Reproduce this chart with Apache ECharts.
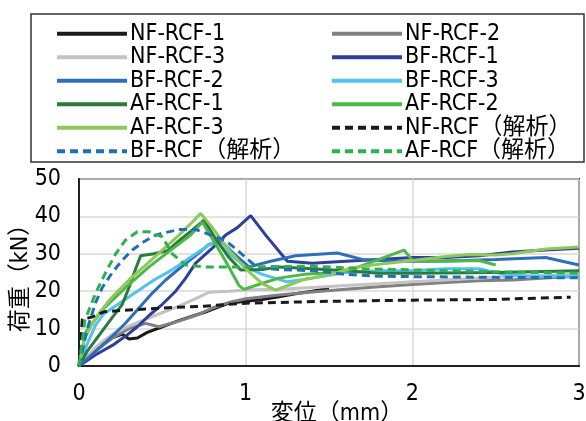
<!DOCTYPE html>
<html>
<head>
<meta charset="utf-8">
<script src="https://cdn.jsdelivr.net/npm/echarts@6/dist/echarts.min.js"></script>
<style>html,body{margin:0;padding:0;background:#fff}#c{width:586px;height:421px}</style>
</head>
<body>
<div id="c"></div>
<script>
const xTicks = [0, 1, 2, 3];
const yTicks = [0, 10, 20, 30, 40, 50];
const names = ['NF-RCF-1','NF-RCF-2','NF-RCF-3','BF-RCF-1','BF-RCF-2','BF-RCF-3','AF-RCF-1','AF-RCF-2','AF-RCF-3','NF-RCF（解析）','BF-RCF（解析）','AF-RCF（解析）'];

const nf1 = [[0,0],[0.05,2.5],[0.1,4.5],[0.15,6],[0.2,7.5],[0.26,8.5],[0.3,7.2],[0.35,7.5],[0.41,9],[0.5,10.5],[0.59,12],[0.67,13.2],[0.75,14.3],[0.82,15.5],[0.9,16.8],[1.0,17.3],[1.1,17.8],[1.2,18.5],[1.3,19.3],[1.4,20],[1.5,20.8]];
const nf2 = [[0,0],[0.1,4],[0.2,7.5],[0.3,10],[0.4,11.4],[0.48,10.5],[0.6,12],[0.7,13.5],[0.8,15.5],[0.9,17],[1.0,18],[1.2,19],[1.4,19.8],[1.6,20.5],[1.8,21.2],[2.0,21.8],[2.2,22.3],[2.4,22.8],[2.6,23],[2.8,23.5],[3.0,24]];
const nf3 = [[0,0],[0.1,5],[0.2,8.5],[0.29,10.5],[0.4,12.5],[0.49,14.1],[0.6,16],[0.7,18],[0.78,19.7],[0.9,20],[1.0,20.3],[1.2,20.5],[1.4,21],[1.6,21.5],[1.8,22],[2.0,22.5],[2.2,23],[2.4,23.5],[2.6,24],[2.8,24.2],[3.0,24.5]];
const bf1 = [[0,0],[0.1,3],[0.2,5.5],[0.28,8],[0.35,10.5],[0.42,13.5],[0.5,16.5],[0.58,20],[0.64,23.5],[0.7,27.5],[0.8,31.5],[0.88,35],[0.95,37],[1.03,40.2],[1.12,35],[1.25,28],[1.4,27.5],[1.6,28],[1.8,28.5],[2.0,29],[2.2,29],[2.4,29.5],[2.6,30.5],[2.8,31],[3.0,31.5]];
const bf2 = [[0,0],[0.1,4],[0.2,8],[0.28,11.5],[0.36,15.5],[0.44,19.5],[0.52,23],[0.6,26],[0.7,29.5],[0.78,32.5],[0.85,33.5],[0.93,30],[1.02,26.5],[1.15,28],[1.3,29.5],[1.55,30.2],[1.7,28.5],[1.9,28],[2.1,28],[2.3,28.2],[2.5,28.5],[2.8,29],[3.0,27]];
const bf3 = [[0,0],[0.05,6],[0.1,11],[0.15,14],[0.25,17],[0.35,20],[0.45,23],[0.55,25.5],[0.65,28.5],[0.75,31.5],[0.82,33.5],[0.9,30],[1.0,26.5],[1.1,24.5],[1.25,22.5],[1.4,23.5],[1.6,25],[1.8,25.5],[2.0,25.5],[2.2,26],[2.4,26],[2.55,24.5],[2.7,24],[3.0,24]];
const af1 = [[0,0],[0.05,4],[0.1,7],[0.15,10],[0.2,13],[0.26,16.5],[0.3,21],[0.34,26],[0.37,29.5],[0.45,30],[0.53,30.8],[0.6,33.5],[0.67,36],[0.75,39],[0.82,34],[0.9,29],[0.97,25.7],[1.1,25.8],[1.2,26.5],[1.4,26],[1.6,25.5],[1.8,24.8],[2.0,24.8],[2.5,25],[3.0,25.5]];
const af2 = [[0,0],[0.04,9],[0.14,15],[0.28,21],[0.42,26.5],[0.58,32],[0.67,35],[0.74,38.5],[0.8,34],[0.88,28],[0.96,21.5],[0.99,20.5],[1.09,22],[1.2,23.5],[1.35,24.5],[1.55,25],[1.63,25.7],[1.8,28.5],[1.95,31],[2.0,28.3],[2.2,28],[2.4,28.2],[2.5,27]];
const af3 = [[0,0],[0.03,7],[0.1,13],[0.2,18.5],[0.3,23],[0.4,27],[0.5,31],[0.6,35],[0.68,38.5],[0.73,40.8],[0.8,37],[0.9,31],[1.0,26],[1.1,22],[1.18,20.3],[1.34,23],[1.54,24.8],[1.63,26.2],[1.8,27.2],[2.0,28.2],[2.2,29.3],[2.35,29.8],[2.5,29.7],[2.6,30],[2.8,31.3],[3.0,31.8]];
const nfA = [[0,0],[0.02,12.5],[0.07,13],[0.15,14.5],[0.3,15],[0.5,15.5],[0.75,16],[1.0,16.8],[1.5,17.3],[2.0,17.6],[2.5,17.8],[2.95,18.4]];
const bfA = [[0,0],[0.05,10],[0.1,17],[0.14,21],[0.2,25],[0.26,28.3],[0.32,31],[0.38,33],[0.45,34.8],[0.5,35.5],[0.6,36.5],[0.7,36.5],[0.78,35.2],[0.85,34],[0.9,32.8],[0.95,31],[1.0,29],[1.07,26.3],[1.2,25.8],[1.4,25.5],[1.6,24.5],[1.8,24],[2.0,23.9],[2.5,23.7],[3.0,23.6]];
const afA = [[0,0],[0.036,12.3],[0.1,19.5],[0.16,25],[0.22,30],[0.28,33.7],[0.35,35.9],[0.42,35.9],[0.5,34.5],[0.56,30],[0.64,27],[0.75,26.5],[1.0,26.5],[1.4,26.7],[1.7,26],[2.0,25.7],[2.5,25.2],[3.0,24.8]];

const seriesData = [nf1, nf2, nf3, bf1, bf2, bf3, af1, af2, af3, nfA, bfA, afA];
const colors = ['#1a1a1a','#808080','#c3c3c3','#2e3f99','#2f6fba','#4fc3f0','#2a7a3e','#4db848','#8dc85a','#1a1a1a','#2070b8','#2db14e'];
const dashed = [false,false,false,false,false,false,false,false,false,true,true,true];

const FONT = "'DejaVu Sans Condensed','Noto Sans CJK JP',sans-serif";
const chart = echarts.init(document.getElementById('c'), null, {renderer:'canvas'});

const series = names.map((n, i) => ({
  name: n, type: 'line', data: seriesData[i], symbol: 'none', smooth: false,
  lineStyle: {color: colors[i], width: 3, type: dashed[i] ? [8, 5] : 'solid'},
  itemStyle: {color: colors[i]}, z: dashed[i] ? 3 : 2
}));

const legendCommon = {
  orient: 'vertical', top: 22, itemWidth: 70, itemHeight: 14, itemGap: 0, padding: 0,
  selectedMode: false,
  itemStyle: {opacity: 0},
  lineStyle: {width: 4},
  textStyle: {fontFamily: FONT, fontSize: 23, color: '#000', lineHeight: 23.5, padding: [0,0,0,-2]}
};

chart.setOption({
  animation: false,
  color: colors,
  graphic: [{type: 'rect', shape: {x: 31, y: 14, width: 553, height: 148}, style: {fill: 'none', stroke: '#333', lineWidth: 1.5}, z: 10}],
  legend: [
    Object.assign({}, legendCommon, {left: 55, data: [names[0], names[2], names[4], names[6], names[8], names[10]]}),
    Object.assign({}, legendCommon, {left: 330, data: [names[1], names[3], names[5], names[7], names[9], names[11]]})
  ],
  grid: {left: 79, right: 7, top: 179, bottom: 55, show: true, borderColor: '#222', borderWidth: 2, containLabel: false, outerBoundsMode: 'none'},
  xAxis: {
    type: 'value', min: xTicks[0], max: xTicks[xTicks.length-1], interval: 1,
    name: '変位（mm）', nameLocation: 'middle', nameGap: 37, nameMoveOverlap: false,
    nameTextStyle: {fontFamily: FONT, fontSize: 23, color: '#000', padding: [0,0,0,16]},
    axisLine: {show: true, lineStyle: {color: '#222', width: 2}},
    axisTick: {show: false},
    axisLabel: {fontFamily: FONT, fontSize: 23, color: '#000', margin: 17},
    splitLine: {show: true, lineStyle: {color: '#d9d9d9', width: 1.5}}
  },
  yAxis: {
    type: 'value', min: yTicks[0], max: yTicks[yTicks.length-1], interval: 10,
    name: '荷重（kN）', nameLocation: 'middle', nameGap: 46, nameMoveOverlap: false,
    nameTextStyle: {fontFamily: FONT, fontSize: 23, color: '#000'},
    axisLine: {show: true, lineStyle: {color: '#222', width: 2}},
    axisTick: {show: false},
    axisLabel: {fontFamily: FONT, fontSize: 23, color: '#000', margin: 18},
    splitLine: {show: true, lineStyle: {color: '#d9d9d9', width: 1.5}}
  },
  series: series
});
</script>
</body>
</html>
